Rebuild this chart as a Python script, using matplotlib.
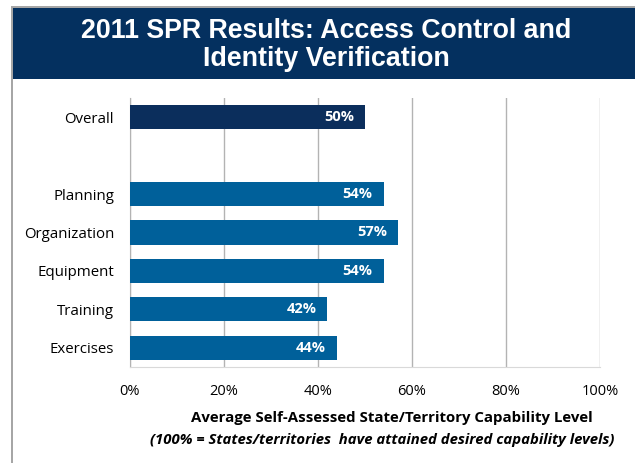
import matplotlib
matplotlib.use("Agg")
import matplotlib.pyplot as plt
from matplotlib.patches import Rectangle

# data
categories = ["Overall", "Planning", "Organization", "Equipment", "Training", "Exercises"]
positions = [0, 2, 3, 4, 5, 6]  # empty slot between Overall and the rest
values = [50, 54, 57, 54, 42, 44]
ticks = [0, 20, 40, 60, 80, 100]
tick_labels = ["0%", "20%", "40%", "60%", "80%", "100%"]

navy = "#04305f"
bar_dark = "#0b2e5c"
bar_blue = "#00609a"
grid_col = "#b3b3b3"

fig = plt.figure(figsize=(6.35, 4.63), dpi=100)
fig.patch.set_facecolor("white")

# title band + panel frame
fig.patches.append(Rectangle((11 / 635, 0), 2 / 635, 1 - 6 / 463, transform=fig.transFigure,
                             facecolor="#a6a6a6", edgecolor="none"))
fig.patches.append(Rectangle((11 / 635, 1 - 8 / 463), 1, 2 / 463, transform=fig.transFigure,
                             facecolor="#a6a6a6", edgecolor="none"))
fig.patches.append(Rectangle((13 / 635, 1 - 79 / 463), 1, 71 / 463, transform=fig.transFigure,
                             facecolor=navy, edgecolor="none"))
fig.text(326 / 635, 1 - 45 / 463, "2011 SPR Results: Access Control and\nIdentity Verification",
         ha="center", va="center", color="white", fontsize=19.3, fontweight="bold",
         family="Liberation Sans", linespacing=1.1)

ax = fig.add_axes([130 / 635, 1 - 367 / 463, 470 / 635, 269 / 463])
colors = [bar_dark] + [bar_blue] * (len(values) - 1)
bars = ax.barh(positions, values, height=0.63, color=colors, zorder=3)

for b, v in zip(bars, values):
    ax.annotate(f"{v}%", (v, b.get_y() + b.get_height() / 2), xytext=(-8, 0),
                textcoords="offset points", ha="right", va="center",
                color="white", fontsize=10.5, fontweight="bold", family="Open Sans", zorder=4)

ax.set_xlim(0, 100)
ax.set_ylim(6.5, -0.5)
ax.set_xticks(ticks)
ax.set_xticklabels(tick_labels, family="Open Sans", fontsize=10.5)
ax.set_yticks(positions)
ax.set_yticklabels(categories, family="Open Sans", fontsize=10.8)
ax.tick_params(length=0)
ax.tick_params(axis="y", pad=11.5)
ax.tick_params(axis="x", pad=12)
ax.grid(axis="x", color=grid_col, linewidth=1, zorder=0)
for s in ["top", "right"]:
    ax.spines[s].set_visible(False)
ax.spines["left"].set_color(grid_col)
ax.spines["bottom"].set_color("#d9d9d9")

fig.text(392 / 635, 1 - 418 / 463, "Average Self-Assessed State/Territory Capability Level",
         ha="center", va="center", fontsize=10.8, fontweight="bold", family="Open Sans")
fig.text(382 / 635, 1 - 440 / 463,
         "(100% = States/territories  have attained desired capability levels)",
         ha="center", va="center", fontsize=10.7, fontweight="bold", style="italic", family="Open Sans")

fig.savefig("out.png", dpi=100)
